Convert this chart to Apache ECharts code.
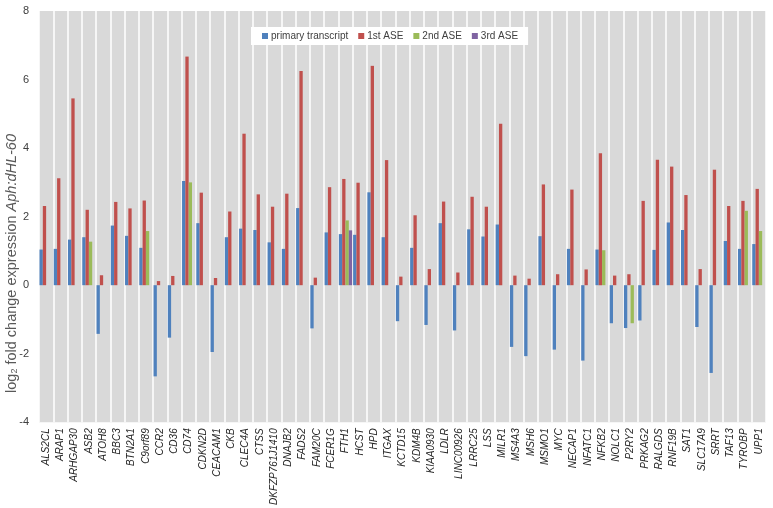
<!DOCTYPE html>
<html><head><meta charset="utf-8">
<script src="https://cdn.jsdelivr.net/npm/echarts@6/dist/echarts.min.js"></script>
<style>html,body{margin:0;padding:0;background:#fff}#c{width:773px;height:508px}</style>
</head><body><div id="c"></div>
<script>
const categories = ['ALS2CL','ARAP1','ARHGAP30','ASB2','ATOH8','BBC3','BTN2A1','C9orf89','CCR2','CD36','CD74','CDKN2D','CEACAM1','CKB','CLEC4A','CTSS','DKFZP761J1410','DNAJB2','FADS2','FAM20C','FCER1G','FTH1','HCST','HPD','ITGAX','KCTD15','KDM4B','KIAA0930','LDLR','LINC00926','LRRC25','LSS','MILR1','MS4A3','MSH6','MSMO1','MYC','NECAP1','NFATC1','NFKB2','NOLC1','P2RY2','PRKAG2','RALGDS','RNF19B','SAT1','SLC17A9','SRRT','TAF13','TYROBP','UPP1'];
const primaryTranscript = [1.04,1.06,1.33,1.4,-1.42,1.74,1.44,1.09,-2.66,-1.53,3.04,1.81,-1.95,1.4,1.65,1.61,1.25,1.06,2.25,-1.26,1.54,1.49,1.47,2.71,1.4,-1.05,1.09,-1.16,1.81,-1.32,1.63,1.42,1.77,-1.8,-2.07,1.43,-1.88,1.06,-2.2,1.04,-1.11,-1.25,-1.03,1.03,1.83,1.61,-1.22,-2.56,1.29,1.06,1.2];
const ase1 = [2.31,3.12,5.45,2.2,0.29,2.43,2.24,2.47,0.12,0.27,6.67,2.7,0.21,2.15,4.42,2.65,2.29,2.67,6.25,0.22,2.86,3.1,2.99,6.4,3.65,0.25,2.04,0.47,2.44,0.37,2.58,2.29,4.71,0.28,0.19,2.94,0.32,2.79,0.46,3.85,0.28,0.32,2.46,3.66,3.46,2.63,0.47,3.37,2.31,2.46,2.81];
const ase2 = [null,null,null,1.27,null,null,null,1.58,null,null,3.0,null,null,null,null,null,null,null,null,null,null,1.89,null,null,null,null,null,null,null,null,null,null,null,null,null,null,null,null,null,1.02,null,-1.11,null,null,null,null,null,null,null,2.17,1.58];
const ase3 = [null,null,null,null,null,null,null,null,null,null,null,null,null,null,null,null,null,null,null,null,null,1.6,null,null,null,null,null,null,null,null,null,null,null,null,null,null,null,null,null,null,null,null,null,null,null,null,null,null,null,null,null];
const seriesNames = ['primary transcript','1st ASE','2nd ASE','3rd ASE'];
const colors = ['#4f81bd','#c0504d','#9bbb59','#8064a2'];

const chart = echarts.init(document.getElementById('c'));
const font = 'Liberation Sans, Arial, sans-serif';
const mk = (name, data, i) => ({
  name, type: 'bar', data, barGap: '0%', barCategoryGap: '7%',
  itemStyle: { color: colors[i] }, animation: false
});
chart.setOption({
  animation: false,
  color: colors,
  grid: { left: 39, right: 7, top: 11, bottom: 81, show: true, backgroundColor: '#d9d9d9', borderWidth: 0 },
  legend: {
    data: seriesNames, top: 27, left: 251,
    backgroundColor: '#ffffff', padding: [4, 10, 4, 11], itemWidth: 6, itemHeight: 6, itemGap: 10,
    icon: 'rect', textStyle: { fontFamily: font, fontSize: 10, color: '#404040', padding: [0, 0, 0, -2] }
  },
  xAxis: {
    type: 'category', data: categories, position: 'bottom',
    axisLine: { show: false }, axisTick: { show: false },
    splitLine: { show: true, interval: 0, lineStyle: { color: '#ffffff', width: 1.5 } },
    axisLabel: { interval: 0, rotate: 90, margin: 6, fontFamily: font, fontStyle: 'italic', fontSize: 10, color: '#262626' }
  },
  yAxis: {
    type: 'value', min: -4, max: 8, interval: 2,
    axisLine: { show: false }, axisTick: { show: false }, splitLine: { show: false },
    axisLabel: { margin: 10, fontFamily: font, fontSize: 11, color: '#404040' }
  },
  graphic: [{
    type: 'text', left: 4, top: 134, rotation: Math.PI / 2,
    style: {
      text: '{a|log}{s|2}{a| fold change expression }{i|Aph:dHL-60}',
      rich: {
        a: { fontFamily: font, fontSize: 14.5, fill: '#595959' },
        s: { fontFamily: font, fontSize: 9, fill: '#595959', padding: [7, 0, 0, 0] },
        i: { fontFamily: font, fontSize: 14.5, fontStyle: 'italic', fill: '#595959' }
      }
    }
  }],
  series: [mk(seriesNames[0], primaryTranscript, 0), mk(seriesNames[1], ase1, 1), mk(seriesNames[2], ase2, 2), mk(seriesNames[3], ase3, 3)]
});
</script></body></html>
